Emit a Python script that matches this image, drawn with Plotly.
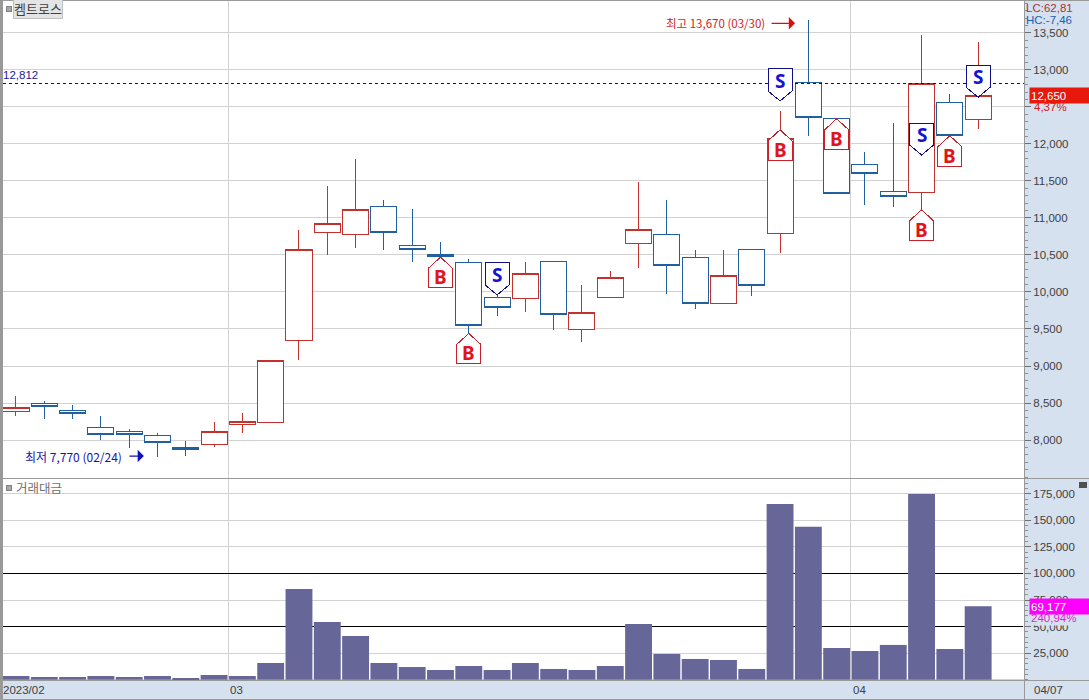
import plotly.graph_objects as go

opens = [8380,8490,8400,8170,8120,8060,7900,7940,8210,8240,9340,10810,10780,11150,10630,10510,10400,9930,9910,10410,9490,9920,10650,10780,10470,9850,10580,10790,12830,12340,11720,11360,11350,12560,12330]
closes = [8440,8450,8360,8080,8080,7970,7870,8120,8250,9070,10570,10920,11110,10800,10570,10480,9550,9790,10250,9690,9720,10190,10840,10360,9840,10220,10090,12070,12360,11330,11600,11290,12810,12120,12650]
highs = [8590,8530,8470,8320,8150,8100,7990,8250,8360,9070,10840,11430,11800,11240,11120,10670,10440,9970,10400,10410,10090,10280,11490,11240,10570,10570,10580,12440,13670,12340,11890,12280,13470,12670,13370]
lows = [8330,8280,8280,8000,7890,7770,7790,7910,8100,8240,9080,10500,10590,10570,10400,10460,9450,9670,9730,9480,9320,9920,10320,9970,9770,9850,9950,10530,12110,11330,11180,11150,11110,12120,12200]
volumes = [3490,2520,2520,3490,2520,3490,1620,4420,3490,15720,85420,54320,41120,15720,11920,9120,12920,9120,15720,10120,9120,12920,52420,24220,19520,18520,10120,165420,143820,29820,27020,32720,174820,28920,69177]

buy_idx = [15,16,27,29,32,33]
buy_price = [10470,9440,12190,12340,11110,12110]
sell_idx = [17,27,32,34]
sell_price = [9960,12580,11850,12630]

price_ticks = [8000,8500,9000,9500,10000,10500,11000,11500,12000,12500,13000,13500]
price_tick_text = ["8,000","8,500","9,000","9,500","10,000","10,500","11,000","11,500","12,000","","13,000","13,500"]
vol_ticks = [25000,50000,75000,100000,125000,150000,175000]
vol_black = [50000,100000]
month_pos = [7.5,29.5]
month_labels = ["03","04"]
W, H = 1089, 700
def px(v): return v / W
def py(v): return 1 - v / H

RED = "#c4302b"; BLUE = "#20609f"; GRID = "#d2d2d2"; PANEL = "#d6e1ef"; EDGE = "#999999"; TXT = "#404040"
NUM = "Liberation Sans"; KR = "Noto Sans CJK KR"

x = list(range(len(opens)))
xr = [-0.459, 35.62]
fig = go.Figure()
fig.add_trace(go.Candlestick(x=x, open=opens, high=highs, low=lows, close=closes, xaxis="x", yaxis="y",
    increasing=dict(line=dict(color=RED, width=1), fillcolor="white"),
    decreasing=dict(line=dict(color=BLUE, width=1), fillcolor="white"),
    whiskerwidth=0, showlegend=False))
fig.add_trace(go.Bar(x=x, y=volumes, xaxis="x2", yaxis="y2", marker=dict(color="#666699", line_width=0), width=0.95, showlegend=False))

shapes = []
anns = []
# reference level and volume lines
shapes.append(dict(type="line", xref="x domain", yref="y", x0=0, x1=1, y0=12812, y1=12812, line=dict(color="#0000c0", width=1, dash="3px,3px"), layer="above"))
for v in vol_black:
    shapes.append(dict(type="line", xref="x2", yref="y2", x0=xr[0], x1=xr[1] - 0.03, y0=v, y1=v, line=dict(color="black", width=1), layer="between"))

def letter(i, p, t, col, shift):
    anns.append(dict(x=i, y=p, xref="x", yref="y", text=f"<b>{t}</b>", showarrow=False, yshift=shift, yanchor="middle",
                     font=dict(family="Noto Sans", size=19, color=col)))
for i, p in zip(buy_idx, buy_price):
    shapes.append(dict(type="path", xref="x", yref="y", xsizemode="pixel", ysizemode="pixel", xanchor=i, yanchor=p,
        path="M 0 0 L 12 -11 L 12 -30.5 L -12 -30.5 L -12 -11 Z", fillcolor="white", line=dict(color="#c8202a", width=1), layer="above"))
    letter(i, p, "B", "#e0141c", -20)
for i, p in zip(sell_idx, sell_price):
    shapes.append(dict(type="path", xref="x", yref="y", xsizemode="pixel", ysizemode="pixel", xanchor=i, yanchor=p,
        path="M 0 0 L 12 10 L 12 32 L -12 32 L -12 10 Z", fillcolor="white", line=dict(color="#10108c", width=1), layer="above"))
    letter(i, p, "S", "#1414d2", 20)

# chrome
shapes += [
    dict(type="rect", xref="paper", yref="paper", x0=0, x1=px(2.5), y0=0, y1=1, fillcolor=EDGE, line_width=0, layer="above"),
    dict(type="line", xref="paper", yref="paper", x0=0, x1=1, y0=py(0.5), y1=py(0.5), line=dict(color=EDGE, width=1), layer="above"),
    dict(type="line", xref="paper", yref="paper", x0=0, x1=1, y0=py(478.5), y1=py(478.5), line=dict(color=EDGE, width=1), layer="above"),
    dict(type="line", xref="paper", yref="paper", x0=0, x1=1, y0=py(680.5), y1=py(680.5), line=dict(color=EDGE, width=1), layer="above"),
    dict(type="line", xref="paper", yref="paper", x0=0, x1=1, y0=py(699.5), y1=py(699.5), line=dict(color=EDGE, width=1), layer="above"),
    dict(type="line", xref="paper", yref="paper", x0=px(1024.5), x1=px(1024.5), y0=0, y1=1, line=dict(color=EDGE, width=1), layer="above"),
    dict(type="rect", xref="paper", yref="paper", x0=px(6), x1=px(11), y0=py(11), y1=py(6), fillcolor="#a8a8a8", line=dict(color="#808080", width=1), layer="above"),
    dict(type="rect", xref="paper", yref="paper", x0=px(6), x1=px(11), y0=py(490), y1=py(485), fillcolor="#a8a8a8", line=dict(color="#808080", width=1), layer="above"),
    dict(type="rect", xref="paper", yref="paper", x0=px(1079), x1=px(1087), y0=py(488), y1=py(482), fillcolor="#505050", line_width=0, layer="above"),
]

def t(xp, yp, text, color=TXT, size=11.5, fam=NUM, xa="left", **kw):
    anns.append(dict(x=px(xp), y=py(yp), xref="paper", yref="paper", text=text, showarrow=False, xanchor=xa, yanchor="middle",
                     font=dict(family=fam, size=size, color=color), **kw))

anns.append(dict(x=px(13), y=py(8.5), xref="paper", yref="paper", text="켐트로스", showarrow=False, xanchor="left", yanchor="middle",
                 font=dict(family=KR, size=13, color="#404040"), bgcolor="#e4e4e4", bordercolor="#c0c0c0", borderwidth=1, borderpad=0))
t(14, 487.5, "거래대금", "#707070", 12.5, KR)
t(1, 75, "12,812", "#1a1a9c")
t(1024, 8, "LC:62,81", "#b03030")
t(1024, 20, "HC:-7,46", "#2060b0")
t(1032, 107, "4,37%", "#d02020")
t(1, 690, "2023/02", TXT)
t(1032, 690, "04/07", TXT)
anns.append(dict(x=px(1029), y=py(618), xref="paper", yref="paper", text="240,94%", showarrow=False, xanchor="left", yanchor="middle", width=58, height=12, align="left",
                 bgcolor=PANEL, font=dict(family=NUM, size=11.5, color="#e020d0")))
for m, lab in zip(month_pos, month_labels):
    anns.append(dict(x=m, y=py(690), xref="x2", yref="paper", text=lab, showarrow=False, xanchor="left", yanchor="middle", xshift=0,
                     font=dict(family=NUM, size=11.5, color=TXT)))
anns.append(dict(x=px(1029), y=12650, xref="paper", yref="y", text="12,650", showarrow=False, xanchor="left", yanchor="middle", width=58, height=13, align="left",
                 bgcolor="#e8190c", font=dict(family=NUM, size=11.5, color="white")))
anns.append(dict(x=px(1029), y=69177, xref="paper", yref="y2", text="69,177", showarrow=False, xanchor="left", yanchor="middle", width=58, height=13, align="left",
                 bgcolor="#ff00ff", font=dict(family=NUM, size=11.5, color="white")))

anns.append(dict(x=27.53, y=13670, xref="x", yref="y", text="최고 13,670 (03/30)", showarrow=False, xanchor="right", yanchor="middle", xshift=-28, yshift=-3,
                 font=dict(family=KR, size=11.5, color="#d01c1c")))
anns.append(dict(x=27.53, y=13670, xref="x", yref="y", text="", showarrow=True, ax=-25, ay=0, axref="pixel", ayref="pixel", yshift=-3, arrowcolor="#e00c0c", arrowwidth=1.3, arrowhead=1, arrowsize=1.6))
anns.append(dict(x=4.52, y=7770, xref="x", yref="y", text="최저 7,770 (02/24)", showarrow=False, xanchor="right", yanchor="middle", xshift=-20, yshift=1,
                 font=dict(family=KR, size=12, color="#1414b0")))
anns.append(dict(x=4.52, y=7770, xref="x", yref="y", text="", showarrow=True, ax=-16, ay=0, axref="pixel", ayref="pixel", yshift=1, arrowcolor="#1010c0", arrowwidth=1.3, arrowhead=1, arrowsize=1.6))

xcommon = dict(range=xr, tickmode="array", tickvals=month_pos, showgrid=True, gridcolor=GRID, gridwidth=1, ticks="", showticklabels=False,
               zeroline=False, showline=False, rangeslider=dict(visible=False))
ycommon = dict(side="right", showgrid=True, gridcolor=GRID, gridwidth=1, ticks="outside", ticklen=6, tickcolor="#707070", tickwidth=1,
               tickfont=dict(family=NUM, size=11.5, color=TXT), showline=False, tickformat=",")
fig.update_layout(
    width=W, height=H, autosize=False, margin=dict(l=0, r=0, t=0, b=0, pad=0),
    paper_bgcolor=PANEL, plot_bgcolor="white", boxgap=0.08, boxgroupgap=0, bargap=0.05,
    xaxis=dict(domain=[px(3), px(1024)], anchor="y", **xcommon),
    xaxis2=dict(domain=[px(3), px(1024)], anchor="y2", **xcommon),
    yaxis=dict(domain=[py(478), 1], range=[7487, 13944], anchor="x", tickmode="array", tickvals=price_ticks, ticktext=price_tick_text,
               minor=dict(dtick=100, ticks="outside", ticklen=3, tickcolor="#909090", showgrid=False), zeroline=False, **ycommon),
    yaxis2=dict(domain=[py(680), py(478)], range=[-280, 189800], anchor="x2", tickmode="array", tickvals=vol_ticks,
                minor=dict(dtick=5000, ticks="outside", ticklen=3, tickcolor="#909090", showgrid=False), zeroline=True, zerolinecolor=GRID, **ycommon),
    shapes=shapes, annotations=anns, showlegend=False, hovermode=False,
)
fig.write_html("out.html", config=dict(displayModeBar=False), post_script=(
    "document.body.style.margin='0';document.body.style.background='#d6e1ef';"
    "var s=document.createElement('style');s.textContent='.boxlayer path,.shapelayer path{shape-rendering:crispEdges}';document.head.appendChild(s);"))
